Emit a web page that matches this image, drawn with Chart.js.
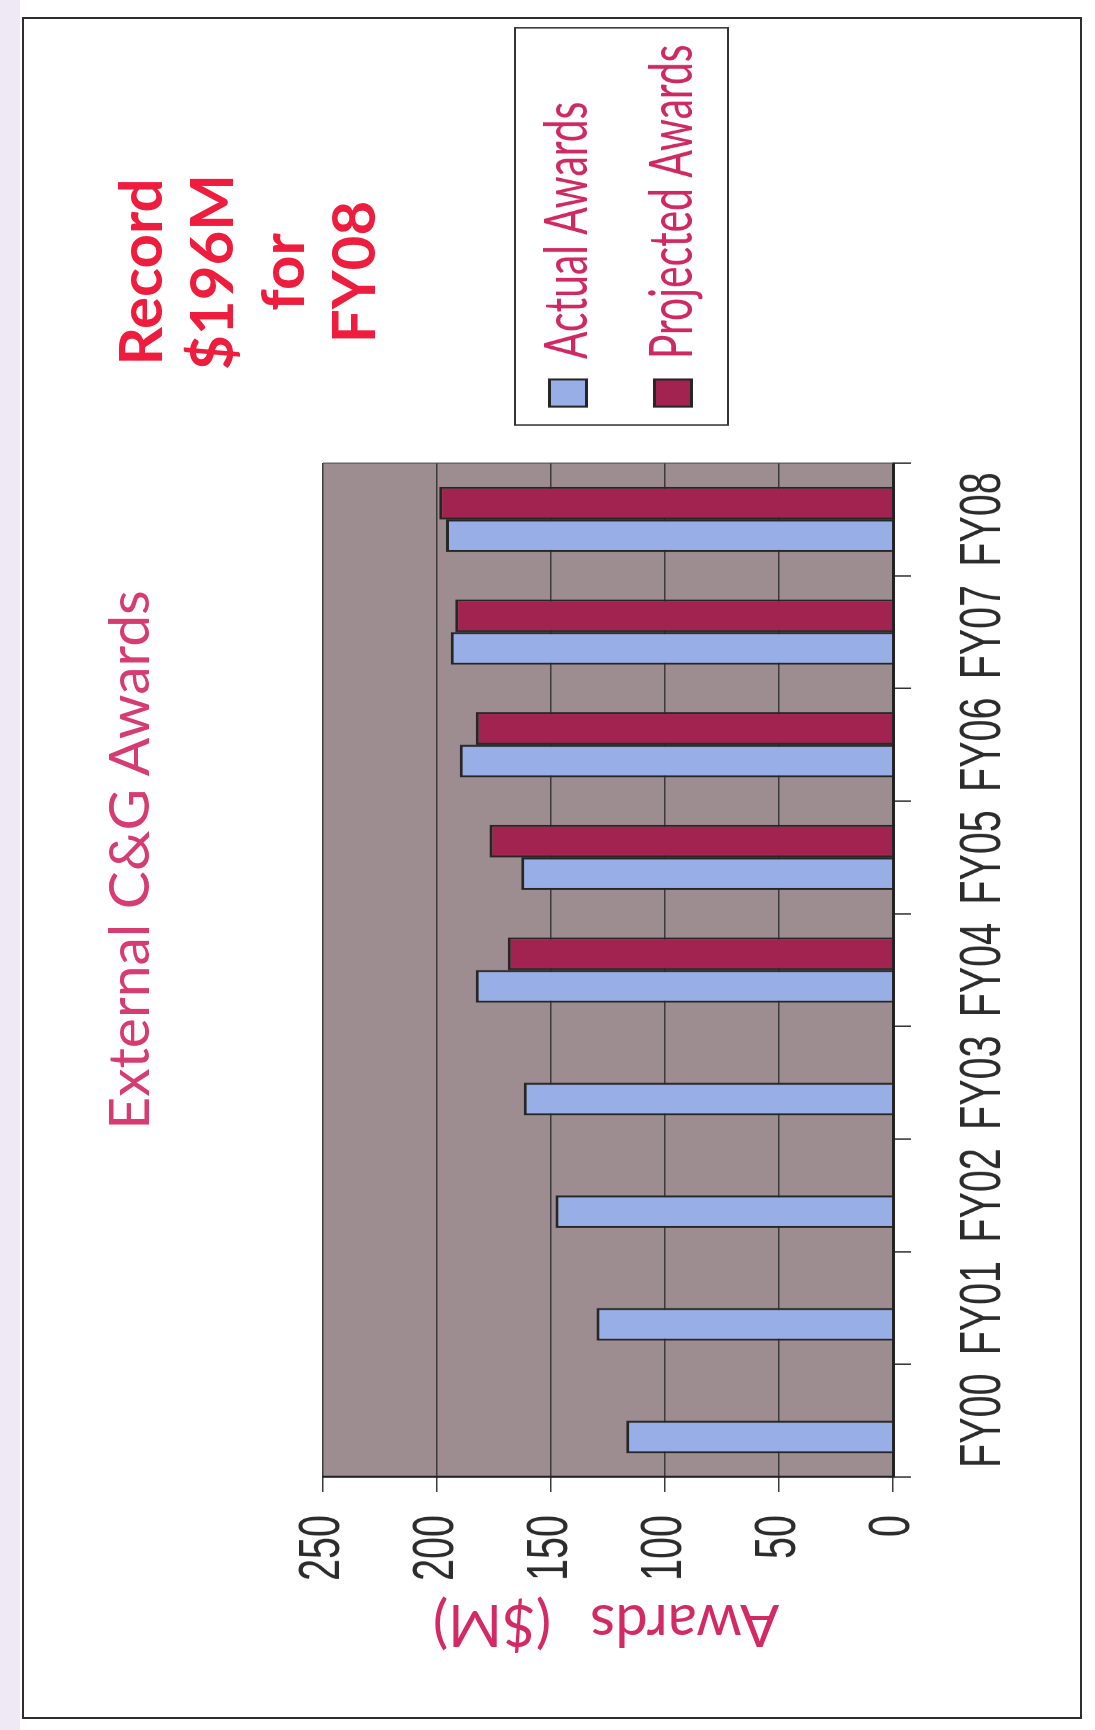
<!DOCTYPE html>
<html>
<head>
<meta charset="utf-8">
<title>External C&amp;G Awards</title>
<script src="https://cdn.jsdelivr.net/npm/chart.js@4.4.1/dist/chart.umd.min.js"></script>
<style>
  html, body { margin: 0; padding: 0; background: #fff; }
  body { width: 1095px; height: 1730px; position: relative; overflow: hidden; }
  #margin { position: absolute; left: 0; top: 0; width: 20px; height: 1730px; background: #eee9f5; }
  #page { position: absolute; left: 22px; top: 17px; width: 1060px; height: 1702px;
          border: 2px solid #2e2e2e; box-sizing: border-box; }
  /* the slide is printed sideways: everything is laid out landscape, then turned */
  #stage { position: absolute; left: 0; top: 0; width: 1730px; height: 1095px;
           transform-origin: 0 0; transform: translateY(1730px) rotate(-90deg); }
  /* chart object was squeezed horizontally on the slide */
  #wrap { position: absolute; left: 0; top: 0; width: 2544px; height: 1095px;
          transform-origin: 0 0; transform: scaleX(0.68003); }
  .title { position: absolute; left: 370px; top: 99px; width: 1000px; text-align: center;
           font: 57px Lato, sans-serif; line-height: 57px; color: #d63c72; white-space: nowrap; }
  .note { position: absolute; left: 1258px; top: 104px; width: 400px; text-align: center;
          font: bold 60px Lato, sans-serif; line-height: 71px; color: #ee1d3d; }
  .ytitle { position: absolute; left: -107px; top: 577px; width: 420px; height: 58px;
            text-align: center; font: 58px Lato, sans-serif; line-height: 58px;
            word-spacing: 24px; color: #d42a63; white-space: nowrap; transform: rotate(-90deg); }
</style>
</head>
<body>
<div id="margin"></div>
<div id="page"></div>
<div id="stage">
  <div id="wrap"><canvas id="awardsChart"></canvas></div>
  <div class="title">External C&amp;G Awards</div>
  <div class="note">Record<br>$196M<br>for<br>FY08</div>
  <div class="ytitle">Awards ($M)</div>
</div>
<script>
// --- DATA ---
const categories = ['FY00', 'FY01', 'FY02', 'FY03', 'FY04', 'FY05', 'FY06', 'FY07', 'FY08'];
const actualAwards = [117, 130, 148, 162, 183, 163, 190, 194, 196];
const projectedAwards = [null, null, null, null, 169, 177, 183, 192, 199];
const valueTicks = [0, 50, 100, 150, 200, 250];
const seriesNames = ['Actual Awards', 'Projected Awards'];

// --- LAYOUT (canvas units, before the horizontal squeeze) ---
const CANVAS_W = 2544;
const CANVAS_H = 1095;
const PLOT = { left: 372, right: 1863, top: 323, bottom: 893 };
const LEGEND = { left: 1901, top: 481, bottom: 760, frame: [1919, 515, 584, 213] };

const tickFont = { family: "'Liberation Sans', Arial, sans-serif", size: 58 };

// gray-mauve plot area
const plotBackground = {
    id: 'plotBackground',
    beforeDraw(chart) {
        const { ctx, chartArea: a } = chart;
        ctx.save();
        ctx.fillStyle = '#9d8d91';
        ctx.fillRect(a.left, a.top, a.right - a.left, a.bottom - a.top);
        ctx.restore();
    },
    afterDraw(chart) {
        const { ctx, chartArea: a } = chart;
        ctx.save();
        ctx.strokeStyle = '#555';
        ctx.lineWidth = 1.5;
        ctx.beginPath();
        ctx.moveTo(a.right, a.top);
        ctx.lineTo(a.right, a.bottom);
        ctx.stroke();
        ctx.restore();
    }
};

// legend sits to the right of the plot, inside a thin box
const legendFrame = {
    id: 'legendFrame',
    afterLayout(chart) {
        const lg = chart.legend;
        lg.left = LEGEND.left;
        lg.right = LEGEND.left + lg.width;
        lg.top = LEGEND.top;
        lg.bottom = LEGEND.bottom;
        lg.height = LEGEND.bottom - LEGEND.top;
    },
    afterDraw(chart) {
        const [x, y, w, h] = LEGEND.frame;
        const c = chart.ctx;
        c.save();
        c.strokeStyle = '#333';
        c.lineWidth = 2;
        c.strokeRect(x, y, w, h);
        c.restore();
    }
};

const ctx = document.getElementById('awardsChart').getContext('2d');
const awardsChart = new Chart(ctx, {
    type: 'bar',
    data: {
        labels: categories,
        datasets: [{
            label: seriesNames[0],
            data: actualAwards,
            backgroundColor: '#97afe6',
            borderColor: '#262626',
            borderWidth: 3,
            categoryPercentage: 0.58,
            barPercentage: 1.0
        }, {
            label: seriesNames[1],
            data: projectedAwards,
            backgroundColor: '#a2234f',
            borderColor: '#262626',
            borderWidth: 3,
            categoryPercentage: 0.58,
            barPercentage: 1.0
        }]
    },
    options: {
        responsive: true,
        maintainAspectRatio: false,
        animation: false,
        layout: { padding: { top: PLOT.top, left: 0, right: CANVAS_W - PLOT.right, bottom: 0 } },
        plugins: {
            legend: {
                position: 'chartArea',
                labels: {
                    font: { family: 'Lato, sans-serif', size: 60 },
                    color: '#cf2961',
                    boxWidth: 40,
                    boxHeight: 37,
                    padding: 45
                }
            },
            tooltip: { enabled: false },
            title: { display: false }
        },
        scales: {
            x: {
                offset: true,
                grid: { offset: true, drawOnChartArea: false, drawTicks: true, tickLength: 18, color: '#333', lineWidth: 2 },
                border: { color: '#222', width: 3 },
                ticks: { font: tickFont, color: '#2c2c2c', padding: 38, autoSkip: false, maxRotation: 0, minRotation: 0 },
                afterFit: s => { s.height = CANVAS_H - PLOT.bottom; }
            },
            y: {
                min: 0,
                max: 250,
                afterBuildTicks: s => { s.ticks = valueTicks.map(v => ({ value: v })); },
                grid: { color: '#3b3b3b', lineWidth: 1.5, tickLength: 22 },
                border: { color: '#222', width: 3 },
                ticks: { font: tickFont, color: '#2c2c2c', padding: 34 },
                afterFit: s => { s.width = PLOT.left; }
            }
        }
    },
    plugins: [plotBackground, legendFrame]
});
</script>
</body>
</html>
